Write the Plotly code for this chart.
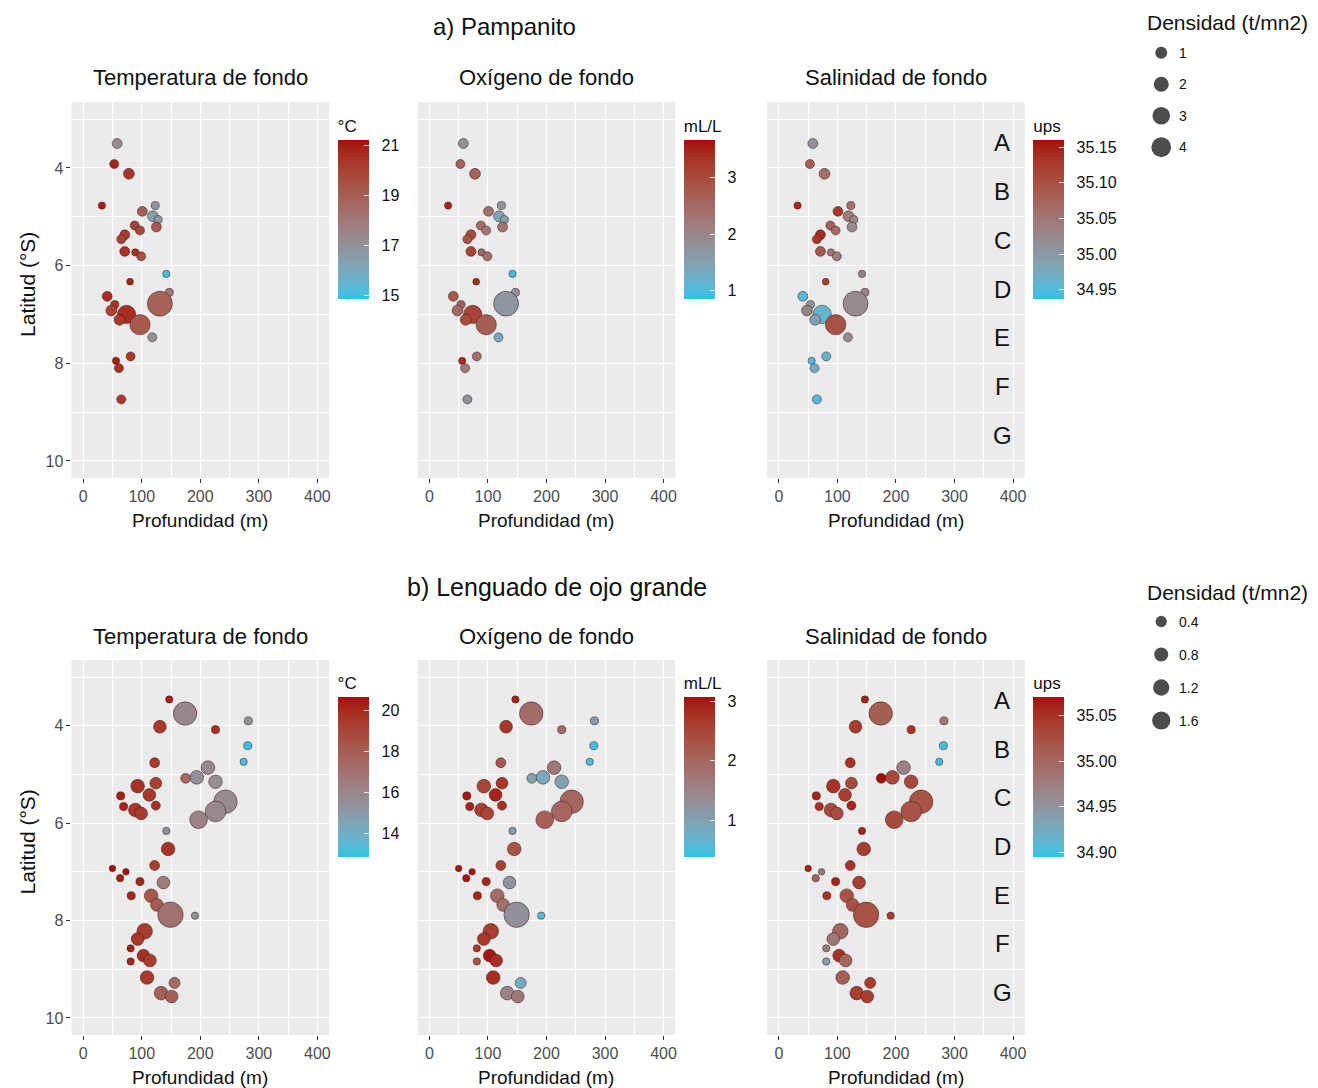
import numpy as np
import plotly.graph_objects as go

W, H = 1318, 1088

# ---------------- DATA ----------------
# a) Pampanito
pam_depth = [58, 53, 78, 32, 123, 101, 119, 128, 125, 88, 97, 71, 65, 71, 89, 99, 142, 80, 147, 41, 54, 48, 131, 74, 62, 97, 118, 56, 61, 81, 65]
pam_lat = [3.50, 3.92, 4.12, 4.77, 4.77, 4.89, 4.99, 5.06, 5.21, 5.18, 5.28, 5.37, 5.46, 5.71, 5.73, 5.81, 6.17, 6.33, 6.55, 6.63, 6.80, 6.92, 6.78, 7.00, 7.11, 7.21, 7.47, 7.95, 8.10, 7.86, 8.74]
pam_dens = [0.72, 0.5, 0.97, 0.14, 0.31, 0.72, 0.97, 0.31, 0.72, 0.5, 0.5, 0.72, 0.5, 0.72, 0.14, 0.5, 0.14, 0.05, 0.31, 0.72, 0.31, 0.97, 7.5, 3.8, 0.97, 4.8, 0.5, 0.14, 0.5, 0.5, 0.5]
pam_temp = [17.2, 20.8, 20.3, 20.9, 17.0, 19.0, 16.3, 16.5, 19.2, 20.0, 19.8, 20.2, 20.0, 20.5, 20.5, 19.5, 15.0, 20.8, 18.0, 20.6, 20.4, 20.0, 18.8, 20.6, 20.3, 19.2, 17.0, 20.9, 20.5, 20.3, 20.3]
pam_oxy = [1.8, 2.6, 2.6, 3.5, 1.8, 2.4, 1.4, 1.5, 2.3, 2.4, 2.3, 3.0, 2.9, 3.1, 2.5, 2.4, 0.95, 3.4, 1.8, 2.8, 2.6, 2.5, 1.7, 3.1, 3.0, 2.7, 1.3, 3.4, 2.2, 2.4, 1.8]
pam_sal = [35.01, 35.08, 35.06, 35.14, 35.06, 35.13, 35.04, 35.03, 35.02, 35.08, 35.07, 35.14, 35.13, 35.09, 35.05, 35.04, 35.03, 35.12, 35.03, 34.95, 35.00, 35.03, 35.02, 34.96, 34.99, 35.10, 35.02, 34.95, 34.97, 34.96, 34.95]

# b) Lenguado de ojo grande
len_depth = [147, 174, 131, 282, 226, 281, 274, 122, 213, 175, 194, 226, 93, 124, 113, 64, 69, 124, 89, 99, 243, 226, 197, 142, 145, 50, 73, 63, 97, 122, 137, 82, 116, 126, 149, 191, 105, 93, 81, 81, 103, 114, 109, 156, 133, 151]
len_lat = [3.46, 3.75, 4.02, 3.90, 4.08, 4.41, 4.74, 4.76, 4.86, 5.08, 5.06, 5.15, 5.24, 5.18, 5.42, 5.44, 5.66, 5.64, 5.73, 5.80, 5.56, 5.76, 5.93, 6.16, 6.53, 6.93, 7.00, 7.13, 7.20, 6.87, 7.22, 7.49, 7.49, 7.68, 7.88, 7.90, 8.22, 8.38, 8.57, 8.84, 8.72, 8.82, 9.17, 9.28, 9.49, 9.56]
len_dens = [0.07, 3.2, 0.75, 0.15, 0.15, 0.15, 0.07, 0.35, 0.9, 0.35, 0.9, 0.9, 0.9, 0.6, 0.75, 0.15, 0.15, 0.25, 0.9, 0.75, 3.2, 2.4, 1.7, 0.07, 0.9, 0.0, 0.0, 0.07, 0.15, 0.35, 0.75, 0.15, 0.9, 0.75, 3.8, 0.07, 1.25, 0.75, 0.07, 0.07, 0.75, 0.75, 0.9, 0.5, 0.9, 0.75]
len_temp = [20.2, 16.0, 19.5, 15.5, 19.8, 13.0, 13.2, 19.5, 15.8, 17.5, 15.5, 15.7, 19.8, 19.2, 19.5, 20.3, 20.2, 19.8, 19.6, 19.3, 15.8, 15.9, 16.2, 15.3, 19.7, 20.5, 20.5, 20.3, 20.1, 19.3, 16.5, 20.1, 18.3, 18.0, 17.0, 15.6, 19.4, 19.6, 20.2, 20.1, 19.7, 19.4, 19.5, 17.3, 17.8, 17.8]
len_oxy = [2.9, 1.9, 2.7, 1.1, 1.9, 0.45, 0.5, 2.2, 1.7, 1.0, 0.9, 1.0, 2.5, 2.7, 2.9, 3.0, 2.9, 2.8, 2.6, 2.5, 2.0, 2.0, 2.1, 1.0, 2.3, 3.0, 3.0, 3.0, 2.9, 2.6, 1.2, 2.9, 1.9, 1.8, 1.3, 0.6, 2.6, 2.7, 2.7, 2.3, 3.0, 2.8, 2.8, 0.8, 1.5, 1.7]
len_sal = [35.06, 35.01, 35.04, 34.98, 35.05, 34.90, 34.90, 35.05, 34.97, 35.07, 35.03, 35.03, 35.05, 35.03, 35.04, 35.06, 35.05, 35.06, 35.03, 35.03, 35.02, 35.02, 35.03, 35.06, 35.04, 35.06, 34.98, 35.00, 35.06, 35.05, 35.04, 35.05, 35.02, 35.02, 35.02, 35.04, 35.00, 34.98, 34.97, 34.94, 35.05, 35.00, 35.01, 35.04, 35.04, 35.04]

zone_letters = ["A", "B", "C", "D", "E", "F", "G"]
zone_lat = [3.48, 4.48, 5.48, 6.48, 7.48, 8.48, 9.48]
zone_depth = 382

x_ticks = [0, 100, 200, 300, 400]
y_ticks = [4, 6, 8, 10]

pam_legend_vals = [1, 2, 3, 4]
pam_legend_text = ["1", "2", "3", "4"]
len_legend_vals = [0.4, 0.8, 1.2, 1.6]
len_legend_text = ["0.4", "0.8", "1.2", "1.6"]

panel_titles = ["Temperatura de fondo", "Oxígeno de fondo", "Salinidad de fondo"]
cbar_titles = ["°C", "mL/L", "ups"]

# colour-bar limits (data range of each variable)
pam_limits = [(14.84, 21.2), (0.85, 3.67), (34.937, 35.16)]
len_limits = [(12.88, 20.63), (0.38, 3.07), (34.895, 35.07)]
pam_cticks = [[15, 17, 19, 21], [1, 2, 3], [34.95, 35.00, 35.05, 35.10, 35.15]]
len_cticks = [[14, 16, 18, 20], [1, 2, 3], [34.90, 34.95, 35.00, 35.05]]

# ---------------- COLOUR SCALE (Lab interpolation like ggplot) ----------------
def _hex2rgb(h):
    h = h.lstrip("#")
    return [int(h[i:i + 2], 16) / 255 for i in (0, 2, 4)]

def _lin(c):
    return c / 12.92 if c <= 0.04045 else ((c + 0.055) / 1.055) ** 2.4

def _gam(c):
    c = min(max(c, 0), 1)
    return 12.92 * c if c <= 0.0031308 else 1.055 * c ** (1 / 2.4) - 0.055

M = np.array([[0.4124, 0.3576, 0.1805], [0.2126, 0.7152, 0.0722], [0.0193, 0.1192, 0.9505]])
Mi = np.linalg.inv(M)
WP = np.array([0.95047, 1.0, 1.08883])

def _f(t):
    return t ** (1 / 3) if t > 0.008856 else 7.787 * t + 16 / 116

def _fi(t):
    return t ** 3 if t ** 3 > 0.008856 else (t - 16 / 116) / 7.787

def to_lab(h):
    rgb = np.array([_lin(c) for c in _hex2rgb(h)])
    xyz = M @ rgb / WP
    fx, fy, fz = [_f(t) for t in xyz]
    return np.array([116 * fy - 16, 500 * (fx - fy), 200 * (fy - fz)])

def from_lab(lab):
    L, a, b = lab
    fy = (L + 16) / 116
    fx = fy + a / 500
    fz = fy - b / 200
    xyz = np.array([_fi(fx), _fi(fy), _fi(fz)]) * WP
    rgb = Mi @ xyz
    r, g, bb = [int(round(_gam(c) * 255)) for c in rgb]
    return f"rgb({r},{g},{bb})"

LOW, HIGH = "#2EC4E8", "#A50C0C"
l0, l1 = to_lab(LOW), to_lab(HIGH)
cscale = [[t, from_lab(l0 + (l1 - l0) * t)] for t in np.linspace(0, 1, 21)]

# ---------------- LAYOUT GEOMETRY ----------------
col_l = [71.6, 418.3, 768.3]
col_w = 258.0
rows = [(102.0, 478.0), (660.0, 1035.0)]
# colour bar boxes: (top of title, bottom of bar)
cbar_box = [(116.0, 299.0), (673.0, 857.0)]

def xdom(l, r):
    return [l / W, r / W]

def ydom(t, b):
    return [1 - b / H, 1 - t / H]

def size_pam(v):
    return np.sqrt(42.25 + 77.5 * np.asarray(v, dtype=float))

def size_len(v):
    return np.sqrt(42.25 + 159 * np.asarray(v, dtype=float))

FONT = "Liberation Sans, Arial, sans-serif"
TXT = "#111111"
PAD = "\u00a0\u00a0"
fig = go.Figure()
layout = dict(width=W, height=H, margin=dict(l=0, r=0, t=0, b=0),
              paper_bgcolor="white", plot_bgcolor="white", showlegend=False,
              font=dict(family=FONT, color=TXT))
annotations = []
shapes = []

species = [
    (pam_depth, pam_lat, pam_dens, [pam_temp, pam_oxy, pam_sal], pam_limits, pam_cticks, size_pam),
    (len_depth, len_lat, len_dens, [len_temp, len_oxy, len_sal], len_limits, len_cticks, size_len),
]

for r, (dep, lat, dens, vars_, lims, cticks, sfun) in enumerate(species):
    top, bot = rows[r]
    cb_top, cb_bot = cbar_box[r]
    for c in range(3):
        k = r * 3 + c + 1
        xa = "xaxis" if k == 1 else f"xaxis{k}"
        ya = "yaxis" if k == 1 else f"yaxis{k}"
        xr = "x" if k == 1 else f"x{k}"
        yr = "y" if k == 1 else f"y{k}"
        ca = "coloraxis" if k == 1 else f"coloraxis{k}"
        left = col_l[c]
        right = left + col_w
        layout[xa] = dict(domain=xdom(left, right), range=[-20, 420], anchor=yr,
                          tickvals=x_ticks, ticks="outside", ticklen=4, tickcolor="#333333",
                          showgrid=True, gridcolor="white", gridwidth=1.3, zeroline=False,
                          tickfont=dict(size=16, color="#4D4D4D", family=FONT),
                          minor=dict(dtick=50, tick0=0, showgrid=True, gridcolor="white", gridwidth=0.6),
                          fixedrange=True)
        layout[ya] = dict(domain=ydom(top, bot), range=[10.35, 2.65], anchor=xr,
                          tickvals=y_ticks, ticks="outside" if c == 0 else "",
                          ticklen=4, tickcolor="#333333", showticklabels=(c == 0),
                          showgrid=True, gridcolor="white", gridwidth=1.3, zeroline=False,
                          tickfont=dict(size=16, color="#4D4D4D", family=FONT),
                          minor=dict(dtick=1, tick0=0, showgrid=True, gridcolor="white", gridwidth=0.6),
                          fixedrange=True)
        shapes.append(dict(type="rect", xref=f"{xr} domain", yref=f"{yr} domain", x0=0, x1=1, y0=0, y1=1,
                           fillcolor="#EBEBEB", line=dict(width=0), layer="below"))
        cmin, cmax = lims[c]
        tv = cticks[c]
        tt = [PAD + (f"{v:.2f}" if c == 2 else f"{v:g}") for v in tv]
        layout[ca] = dict(
            cmin=cmin, cmax=cmax, colorscale=cscale,
            colorbar=dict(x=(right + 8.5) / W, xanchor="left", xpad=0,
                          y=1 - cb_top / H, yanchor="top", ypad=0,
                          len=cb_bot - cb_top, lenmode="pixels", thickness=31, thicknessmode="pixels",
                          outlinewidth=0, ticks="inside", ticklen=5, tickcolor="rgba(255,255,255,0.8)",
                          tickvals=tv, ticktext=tt,
                          tickfont=dict(size=16, color=TXT, family=FONT),
                          title=dict(text=cbar_titles[c], side="top", font=dict(size=17, color=TXT, family=FONT))))
        fig.add_trace(go.Scatter(
            x=dep, y=lat, mode="markers", xaxis=xr, yaxis=yr, hoverinfo="skip",
            marker=dict(color=vars_[c], coloraxis=ca, size=sfun(dens), opacity=1.0,
                        line=dict(width=1, color="rgba(60,20,20,0.5)"))))
        # panel title
        annotations.append(dict(text=panel_titles[c], x=(left + right) / 2 / W, y=1 - (top - 24) / H,
                                xref="paper", yref="paper", showarrow=False, xanchor="center", yanchor="middle",
                                font=dict(size=22, color=TXT, family=FONT)))
        # x axis title
        annotations.append(dict(text="Profundidad (m)", x=(left + right) / 2 / W, y=1 - (bot + 42) / H,
                                xref="paper", yref="paper", showarrow=False, xanchor="center", yanchor="middle",
                                font=dict(size=19, color=TXT, family=FONT)))
        if c == 0:
            annotations.append(dict(text="Latitud (°S)", x=28 / W, y=1 - ((top + bot) / 2 - 6) / H,
                                    xref="paper", yref="paper", showarrow=False, textangle=-90,
                                    xanchor="center", yanchor="middle",
                                    font=dict(size=21, color=TXT, family=FONT)))
        if c == 2:
            for L, yl in zip(zone_letters, zone_lat):
                annotations.append(dict(text=L, x=zone_depth, y=yl, xref=xr, yref=yr, showarrow=False,
                                        xanchor="center", yanchor="middle",
                                        font=dict(size=24, color=TXT, family=FONT)))

# main titles
annotations.append(dict(text="a) Pampanito", x=505 / W, y=1 - 26 / H, xref="paper", yref="paper",
                        showarrow=False, xanchor="center", yanchor="middle",
                        font=dict(size=24, color=TXT, family=FONT)))
annotations.append(dict(text="b) Lenguado de ojo grande", x=558 / W, y=1 - 587 / H, xref="paper", yref="paper",
                        showarrow=False, xanchor="center", yanchor="middle",
                        font=dict(size=25, color=TXT, family=FONT)))

# size legends (drawn on their own helper axes)
legends = [
    (pam_legend_vals, pam_legend_text, size_pam, 22, (37, 163), 7),
    (len_legend_vals, len_legend_text, size_len, 592, (605, 737), 8),
]
for vals, txt, sfun, ty, (lt, lb), k in legends:
    xr, yr = f"x{k}", f"y{k}"
    layout[f"xaxis{k}"] = dict(domain=xdom(1148, 1318), range=[0, 170], visible=False, anchor=yr, fixedrange=True)
    layout[f"yaxis{k}"] = dict(domain=ydom(lt, lb), range=[len(vals) - 0.5, -0.5], visible=False, anchor=xr, fixedrange=True)
    idx = list(range(len(vals)))
    fig.add_trace(go.Scatter(x=[15] * len(vals), y=idx, mode="markers", xaxis=xr, yaxis=yr, hoverinfo="skip",
                             marker=dict(color="#000000", size=sfun(vals) + 1, line=dict(width=0))))
    for i, t in zip(idx, txt):
        annotations.append(dict(text=t, x=31, y=i, xref=xr, yref=yr, showarrow=False, xanchor="left",
                                yanchor="middle", font=dict(size=14, color=TXT, family=FONT)))
    annotations.append(dict(text="Densidad (t/mn2)", x=1147 / W, y=1 - ty / H, xref="paper", yref="paper",
                            showarrow=False, xanchor="left", yanchor="middle",
                            font=dict(size=21, color=TXT, family=FONT)))

layout["annotations"] = annotations
layout["shapes"] = shapes
fig.update_layout(**layout)
fig.write_html("out.html")
